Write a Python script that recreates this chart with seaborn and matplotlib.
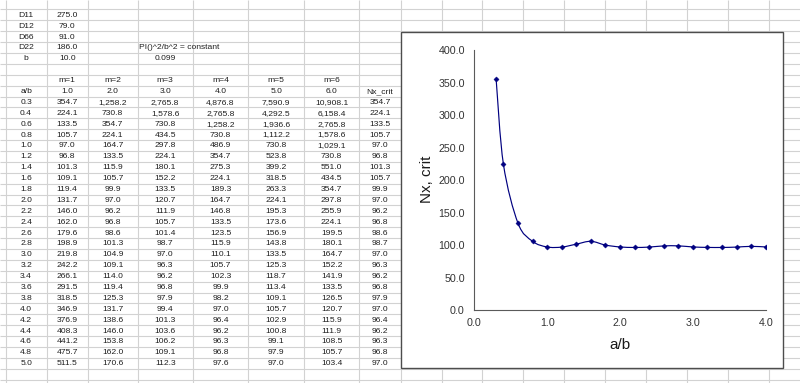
import numpy as np
import matplotlib
matplotlib.use("Agg")
import matplotlib.pyplot as plt
import seaborn as sns
import pandas as pd
from matplotlib.patches import Rectangle, PathPatch
from matplotlib.path import Path

# ---------------- data ----------------
param_names = ["D11", "D12", "D66", "D22", "b"]
param_values = [275.0, 79.0, 91.0, 186.0, 10.0]
constant_label = "PI()^2/b^2 = constant"

m_labels = ["m=1", "m=2", "m=3", "m=4", "m=5", "m=6"]
m_values = [1.0, 2.0, 3.0, 4.0, 5.0, 6.0]

ab = [0.3, 0.4, 0.6, 0.8, 1.0, 1.2, 1.4, 1.6, 1.8, 2.0, 2.2, 2.4, 2.6,
      2.8, 3.0, 3.2, 3.4, 3.6, 3.8, 4.0, 4.2, 4.4, 4.6, 4.8, 5.0]
m1 = [354.7, 224.1, 133.5, 105.7, 97.0, 96.8, 101.3, 109.1, 119.4, 131.7,
      146.0, 162.0, 179.6, 198.9, 219.8, 242.2, 266.1, 291.5, 318.5, 346.9,
      376.9, 408.3, 441.2, 475.7, 511.5]
m2 = [1258.2, 730.8, 354.7, 224.1, 164.7, 133.5, 115.9, 105.7, 99.9, 97.0,
      96.2, 96.8, 98.6, 101.3, 104.9, 109.1, 114.0, 119.4, 125.3, 131.7,
      138.6, 146.0, 153.8, 162.0, 170.6]
m3 = [2765.8, 1578.6, 730.8, 434.5, 297.8, 224.1, 180.1, 152.2, 133.5, 120.7,
      111.9, 105.7, 101.4, 98.7, 97.0, 96.3, 96.2, 96.8, 97.9, 99.4,
      101.3, 103.6, 106.2, 109.1, 112.3]
m4 = [4876.8, 2765.8, 1258.2, 730.8, 486.9, 354.7, 275.3, 224.1, 189.3, 164.7,
      146.8, 133.5, 123.5, 115.9, 110.1, 105.7, 102.3, 99.9, 98.2, 97.0,
      96.4, 96.2, 96.3, 96.8, 97.6]
m5 = [7590.9, 4292.5, 1936.6, 1112.2, 730.8, 523.8, 399.2, 318.5, 263.3, 224.1,
      195.3, 173.6, 156.9, 143.8, 133.5, 125.3, 118.7, 113.4, 109.1, 105.7,
      102.9, 100.8, 99.1, 97.9, 97.0]
m6 = [10908.1, 6158.4, 2765.8, 1578.6, 1029.1, 730.8, 551.0, 434.5, 354.7, 297.8,
      255.9, 224.1, 199.5, 180.1, 164.7, 152.2, 141.9, 133.5, 126.5, 120.7,
      115.9, 111.9, 108.5, 105.7, 103.4]
nx_crit = [354.7, 224.1, 133.5, 105.7, 97.0, 96.8, 101.3, 105.7, 99.9, 97.0,
           96.2, 96.8, 98.6, 98.7, 97.0, 96.3, 96.2, 96.8, 97.9, 97.0,
           96.4, 96.2, 96.3, 96.8, 97.0]
chart_max_ab = 4.0
x_label = "a/b"
y_label = "Nx, crit"
y_ticks = [0, 50, 100, 150, 200, 250, 300, 350, 400]
x_ticks = [0, 1, 2, 3, 4]

# ---------------- style ----------------
sns.set_style("white")
plt.rcParams["font.family"] = ["Liberation Sans", "DejaVu Sans"]

TXT = "#1e1e1e"
GRID = "#d2d2d2"
NAVY = "#000080"

fig = plt.figure(figsize=(8, 3.83), dpi=100)
bg = fig.add_axes([0, 0, 1, 1])
bg.set_xlim(0, 800)
bg.set_ylim(383, 0)
bg.axis("off")

# spreadsheet grid
col_edges = [5.5, 46.7, 87.7, 137.7, 192.7, 248.3, 304.0, 359.3, 400.7, 441.7,
             482.3, 523.3, 564.0, 605.0, 646.0, 687.3, 728.3, 769.3, 810.3]
row0, rh = 9.4, 10.89
row_edges = [row0 + k * rh for k in range(-1, 36)]
bg.vlines(col_edges, 0, 383, color=GRID, lw=0.8, zorder=1)
bg.hlines(row_edges, 0, 800, color=GRID, lw=0.8, zorder=1)

FS = 6.1


def cell(c, r, s, ha="center"):
    y = row0 + (r + 0.5) * rh + 0.4
    if ha == "center":
        x = (col_edges[c] + col_edges[c + 1]) / 2
    else:
        x = col_edges[c] + 1.5
    bg.text(x, y, s, ha=ha, va="center", fontsize=FS, color=TXT, zorder=2)


for i, (n, v) in enumerate(zip(param_names, param_values)):
    cell(0, i, n)
    cell(1, i, f"{v:.1f}")
cell(3, 3, constant_label, ha="left")
cell(3, 4, f"{np.pi ** 2 / param_values[-1] ** 2:.3f}")

for j, (lab, mv) in enumerate(zip(m_labels, m_values)):
    cell(1 + j, 6, lab)
    cell(1 + j, 7, f"{mv:.1f}")
cell(0, 7, "a/b")
cell(7, 7, "Nx_crit")

cols = [m1, m2, m3, m4, m5, m6]
for i, a in enumerate(ab):
    r = 8 + i
    cell(0, r, f"{a:.1f}")
    for j, col in enumerate(cols):
        cell(1 + j, r, f"{col[i]:,.1f}")
    cell(7, r, f"{nx_crit[i]:.1f}")

# chart panel
bg.add_patch(Rectangle((400.7, 32.3), 782.7 - 400.7, 368.0 - 32.3,
                       facecolor="white", edgecolor="#4d4d4d", lw=1.0, zorder=3))

# ---------------- chart ----------------
x0, x1 = 474.3, 765.7
y0, y1 = 310.0, 50.0
ax = fig.add_axes([x0 / 800, 1 - y0 / 383, (x1 - x0) / 800, (y0 - y1) / 383])
ax.set_zorder(5)
ax.patch.set_alpha(0)

df = pd.DataFrame({"a/b": ab, "Nx_crit": nx_crit})
dfc = df[df["a/b"] <= chart_max_ab].reset_index(drop=True)

# smoothed line (Bezier through the data points, like Excel's smoothed line)
P = dfc[["a/b", "Nx_crit"]].to_numpy()
n = len(P)
verts = [P[0]]
codes = [Path.MOVETO]
for i in range(n - 1):
    pm = P[i - 1] if i > 0 else P[i]
    pp = P[i + 2] if i + 2 < n else P[i + 1]
    c1 = P[i] + (P[i + 1] - pm) / 6.0
    c2 = P[i + 1] - (pp - P[i]) / 6.0
    verts += [c1, c2, P[i + 1]]
    codes += [Path.CURVE4] * 3
ax.add_patch(PathPatch(Path(verts, codes), facecolor="none", edgecolor=NAVY,
                       lw=0.85, zorder=3))

sns.scatterplot(data=dfc, x="a/b", y="Nx_crit", marker="D", s=7, color=NAVY,
                edgecolor=NAVY, linewidth=0.3, ax=ax, zorder=4, legend=False)

ax.set_xlim(0, 4)
ax.set_ylim(0, 400)
ax.set_xticks(x_ticks)
ax.set_yticks(y_ticks)
ax.set_xticklabels([f"{t:.1f}" for t in x_ticks])
ax.set_yticklabels([f"{t:.1f}" for t in y_ticks])
for s in ["top", "right"]:
    ax.spines[s].set_visible(False)
for s in ["left", "bottom"]:
    ax.spines[s].set_color("#5a5a5a")
    ax.spines[s].set_linewidth(0.8)
ax.tick_params(axis="both", direction="out", length=2.2, width=0.8,
               color="#5a5a5a", labelsize=7.7, labelcolor="#333333")
ax.tick_params(axis="x", pad=3.6)
ax.tick_params(axis="y", pad=4.6)
ax.set_xlabel(x_label, fontsize=11, color="#1a1a1a")
ax.set_ylabel(y_label, fontsize=11, color="#1a1a1a")
ax.xaxis.set_label_coords(0.5, -0.107)
ax.yaxis.set_label_coords(-0.139, 0.504)

fig.savefig("out.png", dpi=100)
